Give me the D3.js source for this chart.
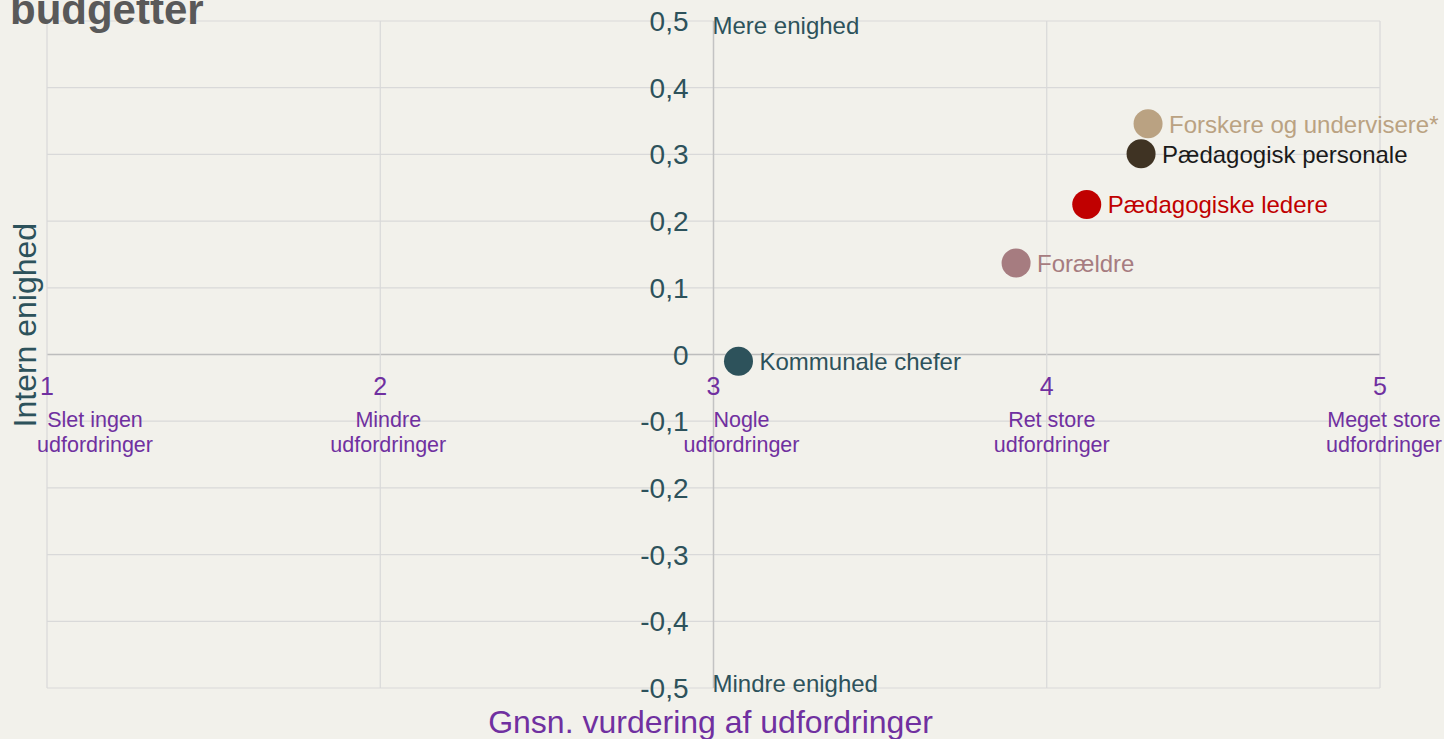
<!DOCTYPE html>
<html>
<head>
<meta charset="utf-8">
<script src="https://cdn.jsdelivr.net/npm/d3@7"></script>
<style>
  body { margin: 0; background: #f2f1eb; font-family: "Liberation Sans", Arial, sans-serif; }
  svg { display: block; }
</style>
</head>
<body>
<div class="chart"></div>
<script>
// data
const groups = ['Kommunale chefer', 'Forældre', 'Pædagogiske ledere', 'Pædagogisk personale', 'Forskere og undervisere*'];
const challenge = [3.075, 3.908, 4.12, 4.283, 4.304];
const agreement = [-0.01, 0.137, 0.225, 0.301, 0.346];
const dotColors = ['#2d525b', '#a67c80', '#c00000', '#3f3323', '#baa282'];
const labelColors = ['#2d525b', '#a67c80', '#c00000', '#1a1a1a', '#baa282'];

const xTicks = [1, 2, 3, 4, 5];
const xTickNames = [['Slet ingen', 'udfordringer'], ['Mindre', 'udfordringer'], ['Nogle', 'udfordringer'], ['Ret store', 'udfordringer'], ['Meget store', 'udfordringer']];
const yTicks = [0.5, 0.4, 0.3, 0.2, 0.1, 0, -0.1, -0.2, -0.3, -0.4, -0.5];

const width = 1444;
const height = 739;
const margin = { top: 21, left: 47, right: 64, bottom: 51 };
// nudges for the category names under the x ticks (in px)
const nameShift = [48, 8, 28, 5, 4];

const teal = '#2d525b';
const purple = '#7030a0';

const svg = d3.select('.chart').append('svg')
  .attr('width', width)
  .attr('height', height);

const x = d3.scaleLinear().domain([1, 5]).range([margin.left, width - margin.right]);
const y = d3.scaleLinear().domain([-0.5, 0.5]).range([height - margin.bottom, margin.top]);

// gridlines
svg.append('g').selectAll('line')
  .data(yTicks)
  .enter().append('line')
  .attr('x1', x(1)).attr('x2', x(5))
  .attr('y1', d => y(d)).attr('y2', d => y(d))
  .attr('stroke', d => d === 0 ? '#bdbdbd' : '#d9d9d9')
  .attr('stroke-width', d => d === 0 ? 1.5 : 1.2);

svg.append('g').selectAll('line')
  .data(xTicks)
  .enter().append('line')
  .attr('x1', d => x(d)).attr('x2', d => x(d))
  .attr('y1', y(0.5)).attr('y2', y(-0.5))
  .attr('stroke', d => d === 3 ? '#c3c3c3' : '#d9d9d9')
  .attr('stroke-width', d => d === 3 ? 1.5 : 1.2);

// title (cut off at top, as in the original)
svg.append('text')
  .attr('x', 10).attr('y', 24)
  .attr('font-size', 42).attr('font-weight', 'bold')
  .attr('fill', '#595959')
  .text('budgetter');

// y tick labels
const fmt = d => d === 0 ? '0' : d3.format('.1f')(d).replace('.', ',').replace('\u2212', '-');
svg.append('g').selectAll('text')
  .data(yTicks)
  .enter().append('text')
  .attr('x', x(3) - 25)
  .attr('y', d => y(d) + 10)
  .attr('text-anchor', 'end')
  .attr('font-size', 28)
  .attr('fill', teal)
  .text(fmt);

svg.append('text')
  .attr('x', x(3) - 1).attr('y', y(0.5) + 13)
  .attr('font-size', 24).attr('fill', teal)
  .text('Mere enighed');
svg.append('text')
  .attr('x', x(3) - 1).attr('y', y(-0.5) + 4)
  .attr('font-size', 24).attr('fill', teal)
  .text('Mindre enighed');

// x tick labels
const xt = svg.append('g').selectAll('g')
  .data(xTicks)
  .enter().append('g')
  .attr('transform', d => `translate(${x(d)},0)`);
xt.append('text')
  .attr('y', 395)
  .attr('text-anchor', 'middle')
  .attr('font-size', 25)
  .attr('fill', purple)
  .text(d => d);
xt.each(function(d, i) {
  const t = d3.select(this).append('text')
    .attr('text-anchor', 'middle')
    .attr('font-size', 21.5)
    .attr('fill', purple);
  xTickNames[i].forEach((s, j) => {
    t.append('tspan').attr('x', nameShift[i]).attr('y', 427 + j * 25).text(s);
  });
});

// axis titles
svg.append('text')
  .attr('transform', `translate(36,${y(0.044)}) rotate(-90)`)
  .attr('text-anchor', 'middle')
  .attr('font-size', 32)
  .attr('fill', teal)
  .text('Intern enighed');

svg.append('text')
  .attr('x', x(3) - 3).attr('y', 733)
  .attr('text-anchor', 'middle')
  .attr('font-size', 32)
  .attr('fill', purple)
  .text('Gnsn. vurdering af udfordringer');

// points
const pts = groups.map((g, i) => ({ name: g, x: challenge[i], y: agreement[i], c: dotColors[i], lc: labelColors[i] }));

svg.append('g').selectAll('circle')
  .data(pts)
  .enter().append('circle')
  .attr('cx', d => x(d.x))
  .attr('cy', d => y(d.y))
  .attr('r', 14.5)
  .attr('fill', d => d.c);

svg.append('g').selectAll('text')
  .data(pts)
  .enter().append('text')
  .attr('x', d => x(d.x) + 21)
  .attr('y', d => y(d.y) + 9)
  .attr('font-size', 24)
  .attr('fill', d => d.lc)
  .text(d => d.name);
</script>
</body>
</html>
